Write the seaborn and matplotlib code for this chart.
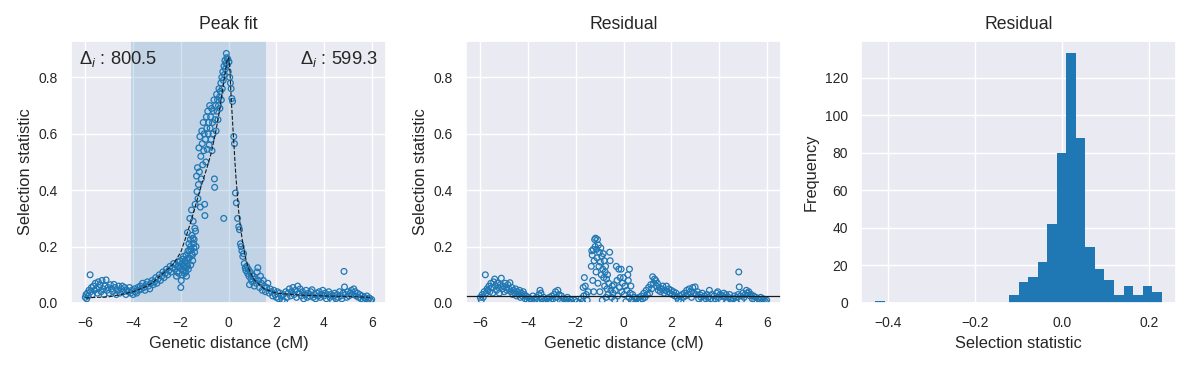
import numpy as np
import matplotlib
matplotlib.use("Agg")
import matplotlib.pyplot as plt
from matplotlib.ticker import MultipleLocator
import seaborn as sns

# ---- data ----
# fitted peak (dashed curve)
fit_x = [-6.0, -5.0, -4.5, -4.0, -3.6, -3.2, -2.9, -2.6, -2.3, -2.0, -1.8, -1.57, -1.3, -1.09,
         -0.9, -0.73, -0.55, -0.38, -0.17, -0.05, 0.0, 0.05, 0.11, 0.2, 0.3, 0.42, 0.5, 0.6,
         0.74, 0.9, 1.1, 1.5, 2.0, 3.0, 4.0, 5.0, 6.0]
fit_y = [0.018, 0.022, 0.03, 0.04, 0.053, 0.07, 0.094, 0.115, 0.14, 0.18, 0.23, 0.29, 0.37, 0.43,
         0.48, 0.53, 0.60, 0.68, 0.80, 0.865, 0.87, 0.84, 0.73, 0.60, 0.46, 0.33, 0.27, 0.21,
         0.15, 0.11, 0.08, 0.05, 0.035, 0.028, 0.025, 0.023, 0.02]

# selection statistic, left tail / peak / right tail
left_pts = [(-6.00, .020), (-5.97, .030), (-5.94, .015), (-5.91, .035), (-5.88, .025), (-5.85, .045),
            (-5.80, .100), (-5.78, .040), (-5.74, .055), (-5.70, .030), (-5.66, .060), (-5.62, .045),
            (-5.58, .070), (-5.54, .050), (-5.50, .035), (-5.46, .075), (-5.42, .055), (-5.38, .065),
            (-5.34, .040), (-5.30, .080), (-5.26, .050), (-5.22, .030), (-5.18, .060), (-5.13, .082),
            (-5.10, .045), (-5.05, .055), (-5.00, .035), (-4.95, .065), (-4.90, .050), (-4.85, .040),
            (-4.80, .066), (-4.75, .055), (-4.70, .030), (-4.65, .045), (-4.60, .060), (-4.55, .035),
            (-4.50, .050), (-4.45, .060), (-4.40, .040), (-4.35, .055), (-4.30, .030), (-4.25, .045),
            (-4.20, .040), (-4.15, .055), (-4.10, .035), (-4.05, .045), (-4.00, .030), (-3.95, .050),
            (-3.90, .040), (-3.85, .035), (-3.80, .055), (-3.75, .045), (-3.70, .060), (-3.65, .050),
            (-3.60, .070), (-3.55, .055), (-3.50, .045), (-3.45, .065), (-3.40, .075), (-3.35, .060),
            (-3.30, .050), (-3.25, .070), (-3.20, .080), (-3.15, .065), (-3.10, .075), (-3.05, .090),
            (-3.00, .070), (-2.95, .085), (-2.90, .100), (-2.85, .080), (-2.80, .095), (-2.75, .110),
            (-2.70, .090), (-2.65, .105), (-2.60, .120), (-2.55, .100), (-2.50, .115), (-2.45, .130),
            (-2.40, .110), (-2.35, .125), (-2.30, .140), (-2.25, .120), (-2.20, .135), (-2.18, .095),
            (-2.15, .110), (-2.12, .130), (-2.10, .145), (-2.08, .105), (-2.05, .125), (-2.03, .150),
            (-2.00, .055), (-1.98, .080), (-1.96, .120), (-1.95, .140), (-1.94, .100), (-1.92, .155),
            (-1.90, .115), (-1.89, .165), (-1.87, .130)]

peak_pts = [(-1.85, .105), (-1.84, .130), (-1.82, .150), (-1.80, .125), (-1.79, .110), (-1.78, .170),
            (-1.76, .095), (-1.75, .155), (-1.74, .140), (-1.72, .250), (-1.71, .130), (-1.70, .185),
            (-1.69, .160), (-1.68, .120), (-1.66, .210), (-1.64, .160), (-1.63, .185), (-1.62, .300),
            (-1.60, .225), (-1.59, .200), (-1.58, .135), (-1.57, .190), (-1.55, .330), (-1.54, .175),
            (-1.53, .240), (-1.51, .170), (-1.50, .150), (-1.49, .230), (-1.48, .290), (-1.46, .210),
            (-1.45, .195), (-1.44, .225), (-1.42, .180), (-1.41, .265), (-1.40, .350), (-1.38, .255),
            (-1.36, .200), (-1.34, .450), (-1.32, .395), (-1.30, .480), (-1.28, .370), (-1.26, .420),
            (-1.24, .550), (-1.22, .465), (-1.20, .590), (-1.18, .340), (-1.16, .520), (-1.14, .440),
            (-1.12, .610), (-1.10, .565), (-1.08, .490), (-1.06, .640), (-1.04, .540), (-1.02, .600),
            (-1.00, .350), (-0.99, .310), (-0.97, .580), (-0.95, .500), (-0.93, .660), (-0.91, .620),
            (-0.89, .545), (-0.87, .680), (-0.85, .600), (-0.83, .640), (-0.81, .560), (-0.79, .700),
            (-0.77, .620), (-0.75, .660), (-0.73, .580), (-0.71, .690), (-0.69, .540), (-0.67, .640),
            (-0.65, .600), (-0.63, .680), (-0.61, .720), (-0.59, .440), (-0.58, .410), (-0.56, .650),
            (-0.54, .700), (-0.52, .610), (-0.50, .740), (-0.48, .680), (-0.46, .720), (-0.44, .650),
            (-0.42, .700), (-0.40, .760), (-0.38, .730), (-0.36, .690), (-0.34, .750), (-0.32, .780),
            (-0.30, .720), (-0.28, .800), (-0.26, .760), (-0.24, .820), (-0.22, .790), (-0.20, .300),
            (-0.19, .840), (-0.17, .810), (-0.15, .860), (-0.13, .830), (-0.11, .850), (-0.09, .885),
            (-0.07, .870), (-0.05, .845), (-0.03, .865), (-0.01, .820), (0.02, .855), (0.05, .800),
            (0.08, .780), (0.11, .760), (0.14, .725), (0.17, .715), (0.22, .590), (0.25, .565),
            (0.29, .390), (0.33, .355), (0.38, .300), (0.43, .270), (0.46, .260), (0.50, .210),
            (0.53, .200), (0.56, .185), (0.60, .165), (0.63, .175), (0.66, .140), (0.70, .125),
            (0.73, .115), (0.76, .130), (0.80, .105), (0.83, .120), (0.86, .095), (0.88, .065),
            (0.91, .110), (0.94, .085), (0.97, .100), (1.00, .075), (1.04, .095), (1.08, .060),
            (1.12, .085), (1.16, .070), (1.20, .110), (1.23, .125), (1.26, .080), (1.30, .055),
            (1.34, .095), (1.38, .070), (1.42, .045), (1.46, .080), (1.50, .060), (1.55, .040),
            (1.60, .055), (1.65, .070), (1.70, .035), (1.75, .050)]

right_pts = [(1.80, .040), (1.85, .025), (1.90, .045), (1.95, .030), (2.00, .020), (2.05, .040),
             (2.10, .015), (2.15, .035), (2.20, .025), (2.25, .010), (2.30, .030), (2.35, .005),
             (2.40, .040), (2.45, .020), (2.50, .035), (2.55, .050), (2.60, .025), (2.65, .040),
             (2.70, .055), (2.75, .030), (2.80, .045), (2.85, .020), (2.90, .060), (2.95, .035),
             (3.00, .050), (3.05, .025), (3.10, .040), (3.15, .015), (3.20, .030), (3.25, .045),
             (3.30, .020), (3.35, .035), (3.40, .025), (3.45, .040), (3.50, .047), (3.55, .020),
             (3.60, .030), (3.65, .015), (3.70, .035), (3.75, .025), (3.80, .040), (3.85, .020),
             (3.90, .030), (3.95, .045), (4.00, .025), (4.05, .035), (4.10, .015), (4.15, .030),
             (4.20, .040), (4.25, .020), (4.30, .030), (4.35, .010), (4.40, .025), (4.45, .035),
             (4.50, .015), (4.55, .030), (4.60, .020), (4.65, .040), (4.70, .025), (4.75, .015),
             (4.80, .035), (4.84, .112), (4.86, .057), (4.90, .030), (4.95, .020), (5.00, .040),
             (5.05, .025), (5.10, .035), (5.15, .045), (5.20, .030), (5.25, .050), (5.30, .040),
             (5.35, .025), (5.40, .035), (5.45, .020), (5.50, .030), (5.55, .015), (5.60, .025),
             (5.65, .010), (5.70, .020), (5.75, .015), (5.80, .025), (5.85, .010), (5.90, .018),
             (5.95, .008), (6.00, .012)]

# residuals (same x grid)
resid_left = [(-6.00, .020), (-5.96, .010), (-5.92, .030), (-5.88, .020), (-5.84, .040), (-5.79, .100),
              (-5.76, .035), (-5.72, .050), (-5.68, .045), (-5.64, .060), (-5.60, .040), (-5.56, .070),
              (-5.52, .055), (-5.48, .035), (-5.44, .075), (-5.40, .085), (-5.36, .060), (-5.32, .045),
              (-5.28, .070), (-5.24, .055), (-5.20, .035), (-5.16, .065), (-5.12, .088), (-5.08, .050),
              (-5.04, .060), (-5.00, .040), (-4.96, .070), (-4.92, .055), (-4.88, .045), (-4.84, .065),
              (-4.80, .050), (-4.76, .072), (-4.72, .040), (-4.68, .055), (-4.64, .030), (-4.60, .045),
              (-4.56, .035), (-4.52, .050), (-4.48, .025), (-4.44, .040), (-4.40, .030), (-4.36, .045),
              (-4.32, .020), (-4.28, .035), (-4.24, .025), (-4.20, .040), (-4.16, .030), (-4.12, .015),
              (-4.08, .025), (-4.04, .010), (-4.00, .020), (-3.95, .005), (-3.90, .015), (-3.85, .010),
              (-3.80, .025), (-3.75, .000), (-3.70, .010), (-3.65, .020), (-3.60, .005), (-3.55, .030),
              (-3.50, .045), (-3.46, .035), (-3.42, .015), (-3.38, .005), (-3.34, .020), (-3.30, .010),
              (-3.25, .000), (-3.20, .015), (-3.15, .005), (-3.10, .020), (-3.05, .010), (-3.00, .025),
              (-2.95, .015), (-2.90, .030), (-2.85, .040), (-2.80, .020), (-2.75, .045), (-2.70, .030),
              (-2.65, .010), (-2.60, .025), (-2.55, .005), (-2.50, .015), (-2.45, .000), (-2.40, .010),
              (-2.35, .020), (-2.30, .005), (-2.25, .000), (-2.20, .010), (-2.15, .000), (-2.05, .010),
              (-1.95, .005), (-1.85, .000), (-1.78, .015), (-1.72, .005), (-1.69, .055), (-1.67, .025)]

resid_mid = [(-1.64, .090), (-1.60, .060), (-1.56, .030), (-1.52, .010), (-1.48, .040), (-1.35, .130),
             (-1.33, .185), (-1.31, .170), (-1.29, .080), (-1.27, .190), (-1.25, .040), (-1.23, .150),
             (-1.21, .225), (-1.19, .200), (-1.17, .230), (-1.15, .110), (-1.13, .190), (-1.11, .160),
             (-1.09, .225), (-1.07, .070), (-1.05, .205), (-1.03, .130), (-1.01, .180), (-0.99, .040),
             (-0.97, .145), (-0.95, .195), (-0.93, .100), (-0.91, .165), (-0.89, .010), (-0.87, .120),
             (-0.85, .175), (-0.83, .090), (-0.81, .150), (-0.79, .060), (-0.77, .110), (-0.75, .130),
             (-0.73, .020), (-0.71, .085), (-0.69, .050), (-0.67, .100), (-0.65, .030), (-0.62, .070),
             (-0.58, .180), (-0.56, .150), (-0.53, .045), (-0.50, .020), (-0.47, .060), (-0.44, .035),
             (-0.40, .065), (-0.37, .010), (-0.34, .045), (-0.30, .130), (-0.27, .080), (-0.24, .025),
             (-0.20, .120), (-0.17, .055), (-0.14, .090), (-0.10, .120), (-0.07, .040), (-0.04, .070),
             (0.00, .090), (0.03, .030), (0.06, .060), (0.10, .005), (0.14, .045), (0.18, .100),
             (0.20, .080), (0.23, .020), (0.25, .120), (0.28, .035), (0.31, .060), (0.34, .010),
             (0.38, .030), (0.42, .005), (0.46, .020), (0.50, .000), (0.55, .015), (0.60, .005),
             (0.65, .020), (0.70, .010), (0.75, .025), (0.80, .015), (0.85, .035), (0.90, .020),
             (0.95, .045), (1.00, .030), (1.05, .055), (1.10, .035), (1.14, .065), (1.18, .050),
             (1.22, .093), (1.26, .070), (1.30, .085), (1.35, .080), (1.38, .060), (1.42, .070),
             (1.46, .045), (1.50, .055), (1.55, .040), (1.60, .050), (1.65, .060), (1.70, .035),
             (1.75, .045), (1.80, .060), (1.85, .040), (1.90, .050), (1.95, .035), (2.00, .045),
             (2.05, .030), (2.10, .040), (2.15, .025), (2.20, .035), (2.25, .020), (2.30, .010),
             (2.35, .025), (2.40, .005), (2.45, .030), (2.50, .020)]

resid_right = [(2.55, .035), (2.60, .025), (2.65, .045), (2.70, .030), (2.75, .050), (2.80, .040),
               (2.85, .020), (2.90, .055), (2.95, .035), (3.00, .057), (3.05, .030), (3.10, .040),
               (3.15, .015), (3.20, .030), (3.25, .020), (3.30, .035), (3.35, .010), (3.40, .025),
               (3.45, .015), (3.50, .030), (3.55, .020), (3.60, .045), (3.65, .015), (3.70, .030),
               (3.75, .010), (3.80, .025), (3.85, .015), (3.90, .035), (3.95, .040), (4.00, .020),
               (4.05, .030), (4.10, .010), (4.15, .025), (4.20, .035), (4.25, .020), (4.30, .030),
               (4.35, .005), (4.40, .020), (4.45, .030), (4.50, .010), (4.55, .000), (4.60, .015),
               (4.65, .025), (4.70, .005), (4.75, .020), (4.80, .030), (4.83, .110), (4.85, .057),
               (4.90, .025), (4.95, .010), (5.00, .035), (5.05, .020), (5.10, .030), (5.15, .045),
               (5.20, .035), (5.25, .040), (5.30, .025), (5.35, .030), (5.40, .015), (5.45, .025),
               (5.50, .010), (5.55, .020), (5.60, .005), (5.65, .015), (5.70, .010), (5.75, .020),
               (5.80, .005), (5.85, .015), (5.90, .010), (5.95, .005), (6.00, .010)]

baseline = 0.025
span_lo, span_hi = -4.1, 1.58
delta_left, delta_right = 800.5, 599.3

# histogram of residuals: 30 bins between hist_lo and hist_hi
hist_lo, hist_hi = -0.430, 0.229
hist_counts = [1, 0, 0, 0, 0, 0, 0, 0, 0, 0, 0, 0, 0, 0,
               4, 11, 14, 22, 42, 80, 133, 88, 30, 18, 12, 4, 9, 4, 9, 6]

BLUE = '#1f77b4'

sns.set_theme(style='darkgrid')
plt.rcParams['font.family'] = ['Liberation Sans', 'DejaVu Sans']
plt.rcParams['mathtext.fontset'] = 'custom'
plt.rcParams['mathtext.rm'] = 'Liberation Sans'
plt.rcParams['mathtext.it'] = 'Liberation Sans:italic'
plt.rcParams.update({'xtick.labelsize': 10, 'ytick.labelsize': 10,
                     'axes.labelsize': 11.8, 'axes.titlesize': 12.7})

fig, (ax1, ax2, ax3) = plt.subplots(1, 3, figsize=(11.91, 3.68), dpi=100)
fig.subplots_adjust(left=71 / 1191, right=1176 / 1191, bottom=1 - 303 / 368, top=1 - 41 / 368,
                    wspace=80 / 315)

# --- peak fit ---
pts = left_pts + peak_pts + right_pts
px = [p[0] for p in pts]
py = [p[1] for p in pts]
ax1.axvspan(span_lo, span_hi, color=BLUE, alpha=0.2, lw=0)
sns.scatterplot(x=px, y=py, ax=ax1, s=17, facecolor='none', edgecolor=BLUE, linewidth=0.9)
sns.lineplot(x=fit_x, y=fit_y, ax=ax1, color='k', linestyle='--', lw=0.8)
ax1.set_ylim(bottom=0)
ax1.text(0.025, 0.97, r'$\Delta_i$ : %.1f' % delta_left, transform=ax1.transAxes,
         ha='left', va='top', fontsize=13.2)
ax1.text(0.975, 0.97, r'$\Delta_i$ : %.1f' % delta_right, transform=ax1.transAxes,
         ha='right', va='top', fontsize=13.2)
ax1.set_title('Peak fit', pad=8.5)
ax1.set_xlabel('Genetic distance (cM)')
ax1.set_ylabel('Selection statistic')

# --- residual ---
rpts = resid_left + resid_mid + resid_right
rx = [p[0] for p in rpts]
ry = [p[1] for p in rpts]
sns.scatterplot(x=rx, y=ry, ax=ax2, s=17, facecolor='none', edgecolor=BLUE, linewidth=0.9)
ax2.axhline(baseline, color='k', lw=0.9)
ax2.set_xlim(ax1.get_xlim())
ax2.set_ylim(ax1.get_ylim())
ax2.set_title('Residual', pad=8.5)
ax2.set_xlabel('Genetic distance (cM)')
ax2.set_ylabel('Selection statistic')

# --- residual histogram ---
edges = np.linspace(hist_lo, hist_hi, len(hist_counts) + 1)
centers = (edges[:-1] + edges[1:]) / 2
sns.histplot(x=list(centers), weights=hist_counts, bins=list(edges), ax=ax3,
             color=BLUE, alpha=1, linewidth=0)
ax3.xaxis.set_major_locator(MultipleLocator(0.2))
ax3.set_title('Residual', pad=8.5)
ax3.set_xlabel('Selection statistic')
ax3.set_ylabel('Frequency')

fig.savefig('out.png', dpi=100)
